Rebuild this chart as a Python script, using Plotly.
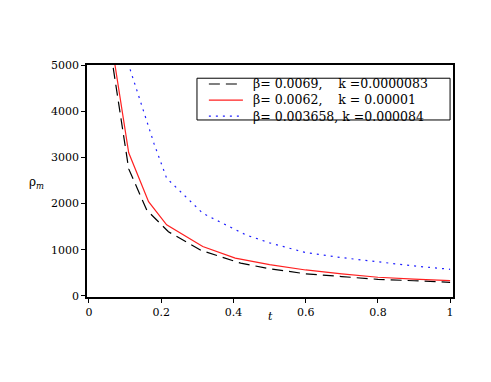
import plotly.graph_objects as go

# values
t_black = [0.06, 0.11, 0.16, 0.22, 0.31, 0.42, 0.5, 0.6, 0.7, 0.8, 0.9, 1.0]
rho_black = [5300, 2750, 1860, 1390, 990, 710, 590, 480, 420, 360, 330, 296]

t_red = [0.06, 0.11, 0.165, 0.215, 0.315, 0.405, 0.5, 0.6, 0.7, 0.8, 0.9, 1.0]
rho_red = [5600, 3100, 2040, 1540, 1070, 820, 680, 563, 480, 405, 365, 331]

t_blue = [0.1, 0.11, 0.18, 0.215, 0.315, 0.435, 0.5, 0.6, 0.7, 0.8, 0.9, 1.0]
rho_blue = [5500, 5000, 3300, 2550, 1790, 1320, 1150, 940, 830, 740, 650, 578]

nb = "\u00a0"
names = [
    f"β= 0.0069,{nb*4}k =0.0000083",
    f"β= 0.0062,{nb*4}k = 0.00001",
    "β= 0.003658, k =0.000084",
]
colors = ["black", "#ff2020", "#2020ff"]
dashes = ["11px,6px", "solid", "2px,5px"]

serif = "DejaVu Serif"

fig = go.Figure()
for tx, ry, nm, c, d in zip([t_black, t_red, t_blue], [rho_black, rho_red, rho_blue],
                            names, colors, dashes):
    fig.add_trace(go.Scatter(x=tx, y=ry, mode="lines", name=nm,
                             line=dict(color=c, width=1.2, dash=d)))

fig.update_layout(
    width=491, height=382,
    margin=dict(l=79, r=46, t=57, b=93),
    paper_bgcolor="white", plot_bgcolor="white",
    font=dict(family=serif, size=11, color="black"),
    showlegend=False,
)
fig.update_xaxes(range=[-0.0055, 1.008], tickvals=[0, 0.2, 0.4, 0.6, 0.8, 1],
                 ticktext=["0", "0.2", "0.4", "0.6", "0.8", "1"],
                 showline=True, linecolor="black", linewidth=1.5, mirror=True,
                 ticks="outside", ticklen=4, tickcolor="black",
                 showgrid=False, zeroline=False)
fig.update_yaxes(range=[-22, 5000], tickvals=[0, 1000, 2000, 3000, 4000, 5000],
                 showline=True, linecolor="black", linewidth=1.5, mirror=True,
                 ticks="outside", ticklen=4, tickcolor="black",
                 showgrid=False, zeroline=False)

# compact boxed legend like the original
fig.add_shape(type="rect", xref="paper", yref="paper",
              x0=0.3005, x1=0.992, y0=0.763, y1=0.943,
              line=dict(color="black", width=1), fillcolor="white", layer="above")
for yy, c, d in zip([0.918, 0.849, 0.780], colors, dashes):
    fig.add_shape(type="line", xref="paper", yref="paper",
                  x0=0.333, x1=0.426, y0=yy, y1=yy,
                  line=dict(color=c, width=1.2, dash=d), layer="above")
fig.add_annotation(text="<br>".join(names), xref="paper", yref="paper",
                   x=0.448, y=0.849, xanchor="left", yanchor="middle",
                   align="left", showarrow=False,
                   font=dict(family=serif, size=12.5))

fig.add_annotation(text="ρ<sub><i>m</i></sub>", xref="paper", yref="paper",
                   x=-0.165, y=0.49, showarrow=False,
                   font=dict(family=serif, size=12))
fig.add_annotation(text="<i>t</i>", xref="paper", yref="paper",
                   x=0.5, y=-0.12, showarrow=False,
                   font=dict(family=serif, size=11))

fig.write_html("out.html")
